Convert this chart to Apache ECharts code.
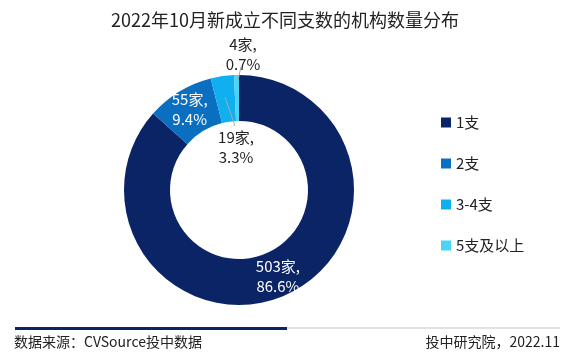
<!DOCTYPE html>
<html>
<head>
<meta charset="utf-8">
<script src="https://cdn.jsdelivr.net/npm/echarts@6/dist/echarts.min.js"></script>
<style>
  html, body { margin: 0; padding: 0; background: #fff; }
  #chart { width: 584px; height: 352px; }
</style>
</head>
<body>
<div id="chart"></div>
<script>
// 数据
const categories = ['1支', '2支', '3-4支', '5支及以上']
const counts = [503, 55, 19, 4]
const percents = ['86.6', '9.4', '3.3', '0.7']
const colors = ['#0b2466', '#0a6fc0', '#10aff0', '#4ad4f6']

const FONT = '"Noto Sans CJK SC", "Noto Sans", sans-serif'

const chart = echarts.init(document.getElementById('chart'))

const pieData = categories.map((name, i) => {
  const item = {
    name,
    value: counts[i],
    itemStyle: { color: colors[i] }
  }
  if (i < 2) {
    item.label = { position: 'inside', color: '#fff' }
  } else {
    item.label = { position: 'outside', color: '#222' }
  }
  item.labelLine = { show: false }
  return item
})

// 小扇区的引导线（画在扇区之上）
const leaderLine = (x1, y1, x2, y2) => ({
  type: 'line',
  z: 100,
  shape: { x1, y1, x2, y2 },
  style: { stroke: '#a8a8a8', lineWidth: 1 }
})

chart.setOption({
  animation: false,
  textStyle: { fontFamily: FONT },
  title: {
    text: '2022年10月新成立不同支数的机构数量分布',
    left: 106,
    top: 6,
    textStyle: { fontSize: 18, fontWeight: 'normal', color: '#222', fontFamily: FONT }
  },
  legend: {
    orient: 'vertical',
    left: 436,
    top: 110,
    icon: 'rect',
    itemWidth: 10,
    itemHeight: 10,
    itemGap: 26,
    textStyle: { fontSize: 15, color: '#222', fontFamily: FONT },
    data: categories
  },
  series: [
    {
      type: 'pie',
      center: [239, 190],
      radius: [69, 115],
      startAngle: 90,
      clockwise: true,
      avoidLabelOverlap: false,
      label: {
        fontSize: 15,
        lineHeight: 20,
        fontFamily: FONT,
        formatter: (p) => p.value + '家,\n' + percents[p.dataIndex] + '%'
      },
      labelLayout: (params) => {
        if (params.dataIndex === 2) {
          return { x: 236, y: 147, align: 'center', verticalAlign: 'middle' }
        }
        if (params.dataIndex === 3) {
          return { x: 243, y: 54, align: 'center', verticalAlign: 'middle' }
        }
        return {}
      },
      data: pieData
    }
  ],
  graphic: [
    leaderLine(225, 97, 235, 126),
    leaderLine(238, 80, 241, 67),
    {
      type: 'line',
      shape: { x1: 287, y1: 328, x2: 560, y2: 328 },
      style: { stroke: '#e2e2e2', lineWidth: 2 }
    },
    {
      type: 'line',
      shape: { x1: 15, y1: 328.5, x2: 287, y2: 328.5 },
      style: { stroke: '#0b2466', lineWidth: 3 }
    },
    {
      type: 'text',
      style: {
        x: 14, y: 342, text: '数据来源：CVSource投中数据',
        textAlign: 'left', textVerticalAlign: 'middle',
        fontSize: 14, fill: '#222', fontFamily: FONT
      }
    },
    {
      type: 'text',
      style: {
        x: 560, y: 342, text: '投中研究院，2022.11',
        textAlign: 'right', textVerticalAlign: 'middle',
        fontSize: 14, fill: '#222', fontFamily: FONT
      }
    }
  ]
})
</script>
</body>
</html>
